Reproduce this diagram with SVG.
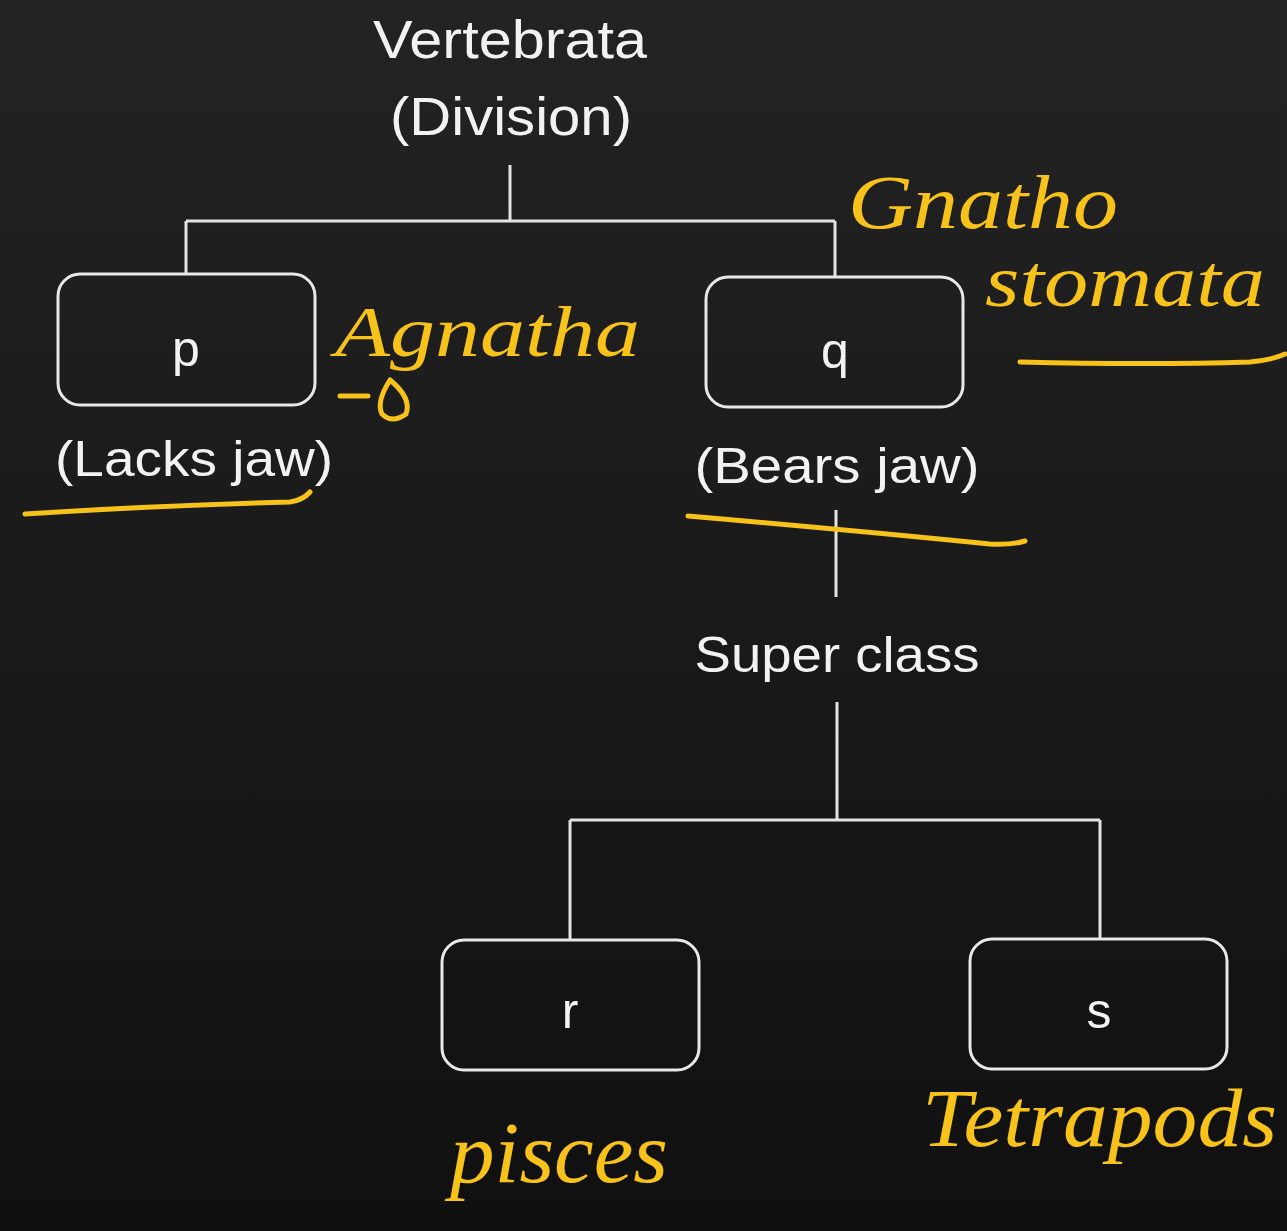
<svg xmlns="http://www.w3.org/2000/svg" width="1287" height="1231" viewBox="0 0 1287 1231">
  <defs>
    <linearGradient id="bg" x1="0" y1="0" x2="0" y2="1">
      <stop offset="0" stop-color="#232323"/>
      <stop offset="1" stop-color="#101010"/>
    </linearGradient>
  </defs>
  <style>
    .box { fill: none; stroke: #e8e8e8; stroke-width: 3; }
    .conn { fill: none; stroke: #e4e4e4; stroke-width: 3; }
    .lbl { font-family: "Liberation Sans", Arial, sans-serif; fill: #f2f2f2; text-anchor: middle; }
    .big { font-size: 54px; }
    .mid { font-size: 50px; }
    .hand { font-family: "Liberation Serif", "Times New Roman", serif; font-style: italic; fill: #f7c21a; }
    .hl { fill: none; stroke: #f7c21a; stroke-width: 5; stroke-linecap: round; stroke-linejoin: round; }
  </style>
  <rect x="0" y="0" width="1287" height="1231" fill="url(#bg)"/>

  <g id="connectors">
    <path class="conn" d="M510 165 V221 M186 221 H835 M186 221 V274 M835 221 V277"/>
    <path class="conn" d="M836 510 V597"/>
    <path class="conn" d="M837 702 V820 M570 820 H1100 M570 820 V940 M1100 820 V939"/>
  </g>

  <g id="vertebrata">
    <text class="lbl big" x="510" y="58" textLength="274" lengthAdjust="spacingAndGlyphs">Vertebrata</text>
    <text class="lbl big" x="511" y="135" textLength="242" lengthAdjust="spacingAndGlyphs">(Division)</text>
  </g>

  <g id="node-p">
    <rect class="box" x="58" y="274" width="257" height="131" rx="22"/>
    <text class="lbl mid" x="186" y="366">p</text>
    <text class="lbl mid" x="194" y="476" textLength="278" lengthAdjust="spacingAndGlyphs">(Lacks jaw)</text>
  </g>

  <g id="node-q">
    <rect class="box" x="706" y="277" width="257" height="130" rx="22"/>
    <text class="lbl mid" x="835" y="368">q</text>
    <text class="lbl mid" x="837" y="483" textLength="285" lengthAdjust="spacingAndGlyphs">(Bears jaw)</text>
  </g>

  <g id="superclass">
    <text class="lbl mid" x="837" y="672" textLength="285" lengthAdjust="spacingAndGlyphs">Super class</text>
  </g>

  <g id="node-r">
    <rect class="box" x="442" y="940" width="257" height="130" rx="22"/>
    <text class="lbl mid" x="570" y="1028">r</text>
  </g>

  <g id="node-s">
    <rect class="box" x="970" y="939" width="257" height="130" rx="22"/>
    <text class="lbl mid" x="1099" y="1028">s</text>
  </g>

  <g id="annotations">
    <text class="hand" x="335" y="356" font-size="72" textLength="305" lengthAdjust="spacingAndGlyphs">Agnatha</text>
    <path class="hl" d="M340 396 H368 M390 380 Q376 402 382 414 Q392 424 406 414 Q412 398 390 380"/>
    <text class="hand" x="848" y="228" font-size="76" textLength="270" lengthAdjust="spacingAndGlyphs">Gnatho</text>
    <text class="hand" x="985" y="306" font-size="74" textLength="280" lengthAdjust="spacingAndGlyphs">stomata</text>
    <text class="hand" x="450" y="1182" font-size="86" textLength="218" lengthAdjust="spacingAndGlyphs">pisces</text>
    <text class="hand" x="922" y="1146" font-size="82" textLength="355" lengthAdjust="spacingAndGlyphs">Tetrapods</text>
    <path class="hl" d="M25 514 Q150 506 290 502 Q303 500 310 492"/>
    <path class="hl" d="M1020 362 Q1150 365 1250 362 Q1272 360 1285 354"/>
    <path class="hl" d="M688 516 Q850 530 990 544 Q1012 545 1025 541"/>
  </g>
</svg>
